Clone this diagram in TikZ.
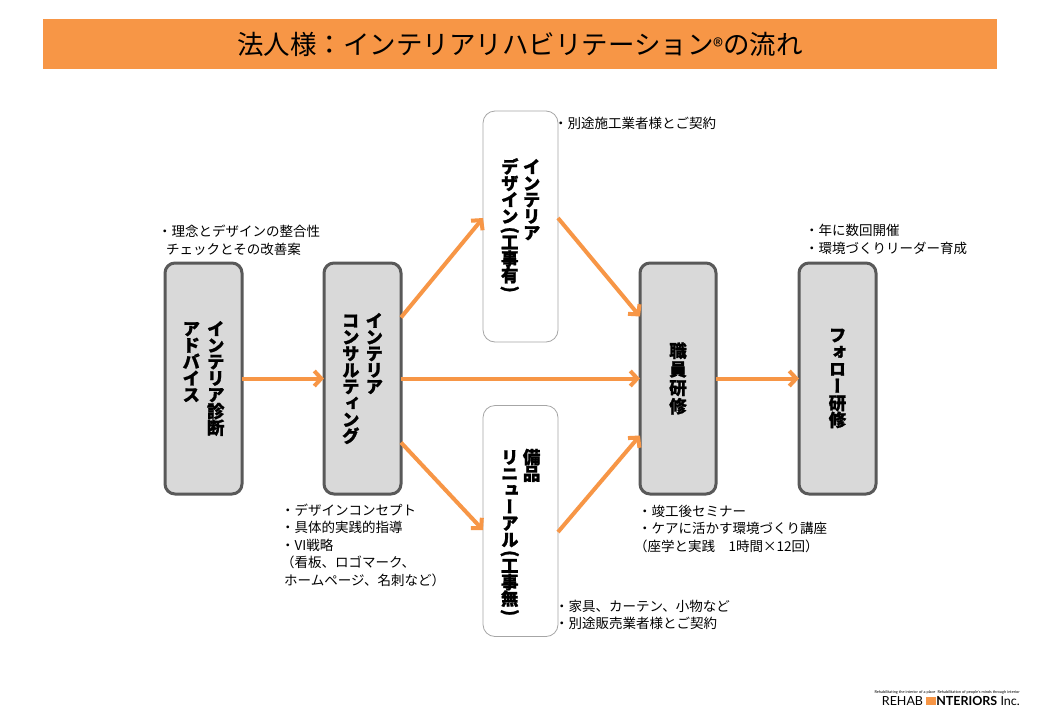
\documentclass[tikz,border=0pt]{standalone}
\usepackage{fontspec}
\usepackage{graphicx}
\usetikzlibrary{arrows.meta}
\setmainfont{Noto Sans CJK JP}
\newfontfamily\jpv[RawFeature=+vert, BoldFeatures={FakeBold=1.2}]{Noto Sans CJK JP}
\newfontfamily\jpb[BoldFeatures={FakeBold=1.2}]{Noto Sans CJK JP}
\newfontfamily\logofont{Lato}
\definecolor{orng}{HTML}{F79646}
\definecolor{boxfill}{HTML}{D9D9D9}
\definecolor{boxline}{HTML}{595959}
\definecolor{thinline}{HTML}{A6A6A6}
\newcommand\vcol[2][16.5pt]{\vtop{\baselineskip=#1\lineskiplimit=-100pt\halign{\hfil##\hfil\cr#2\crcr}}}
\newcommand\tg{\noalign{\vskip-3.5pt}}
\newcommand\vlp{\rotatebox[origin=c]{-90}{\jpb\bfseries (}}
\newcommand\vrp{\rotatebox[origin=c]{-90}{\jpb\bfseries )}}
\begin{document}
\begin{tikzpicture}[x=1pt,y=-1pt,
  graybox/.style={draw=boxline, line width=3pt, fill=boxfill, rounded corners=10pt,
    minimum width=77pt, minimum height=231pt, inner sep=0pt, outer sep=0pt,
    font=\jpv\bfseries\fontsize{17.5}{16.5}\selectfont},
  whitebox/.style={draw=thinline, line width=0.8pt, fill=white, rounded corners=12pt,
    minimum width=75pt, minimum height=231pt, inner sep=0pt, outer sep=0pt,
    font=\jpv\bfseries\fontsize{17.5}{16.5}\selectfont},
  arr/.style={draw=orng, line width=4pt, -{Straight Barb[length=7pt,width=15pt]}},
  ann/.style={anchor=base west, inner sep=0pt, font=\fontsize{13.5}{17.5}\selectfont},
]
\fill[white] (0,0) rectangle (1040,720);
\useasboundingbox (0,0) rectangle (1040,720);

\node[fill=orng, minimum width=954pt, minimum height=50pt, inner sep=0pt,
  font=\fontsize{26.5}{30}\selectfont] (title) at (520,44)
  {法人様：インテリアリハビリテーション{\fontsize{21}{21}\selectfont ®}の流れ};

\node[graybox] (diag) at (203.5,378.5)
  {\vcol{ア\cr ド\cr バ\cr イ\cr ス}\hspace{7pt}\vcol{イ\cr ン\cr テ\cr リ\cr ア\cr 診\cr 断}};
\node[graybox] (cons) at (362.5,378.5)
  {\vcol{コ\cr ン\cr サ\cr ル\cr テ\cr ィ\cr ン\cr グ}\hspace{6pt}\vcol{イ\cr ン\cr テ\cr リ\cr ア}};
\node[whitebox] (design) at (520.5,226.5)
  {\vcol{デ\cr ザ\cr イ\cr ン\cr\tg \vlp\cr\tg 工\cr 事\cr 有\cr\tg \vrp}\hspace{4pt}\vcol{イ\cr ン\cr テ\cr リ\cr ア}};
\node[whitebox, text height=40pt] (renew) at (520.5,521)
  {\vcol{リ\cr ニ\cr ュ\cr ー\cr ア\cr ル\cr\tg \vlp\cr\tg 工\cr 事\cr 無\cr\tg \vrp}\hspace{4pt}\vcol{備\cr 品}};
\node[graybox, minimum width=76pt] (staff) at (678,378.5)
  {\vcol[18.5pt]{職\cr 員\cr 研\cr 修}};
\node[graybox] (follow) at (837.5,378.5)
  {\vcol[17pt]{フ\cr ォ\cr ロ\cr ー\cr 研\cr 修}};

\draw[arr] (diag.east) -- (cons.west);
\draw[arr] ([yshift=61pt]cons.east) -- ([yshift=8.5pt]design.west);
\draw[arr] (cons.east) -- (staff.west);
\draw[arr] ([yshift=-64pt]cons.east) -- ([yshift=-9pt]renew.west);
\draw[arr] ([yshift=8.5pt]design.east) -- ([yshift=62pt]staff.west);
\draw[arr] ([yshift=-11pt]renew.east) -- ([yshift=-57pt]staff.west);
\draw[arr] (staff.east) -- (follow.west);

\node[ann] (a1) at (158,236.5) {・理念とデザインの整合性};
\node[ann] (a2) at (166,254) {チェックとその改善案};

\node[ann] (b1) at (281,515) {・デザインコンセプト};
\node[ann] (b2) at (281,532.5) {・具体的実践的指導};
\node[ann] (b3) at (281,550) {・VI戦略};
\node[ann] (b4) at (281,567.5) {（看板、ロゴマーク、};
\node[ann] (b5) at (284,585) {ホームページ、名刺など）};

\node[ann] (c1) at (554,128) {・別途施工業者様とご契約};

\node[ann] (d1) at (555,611.5) {・家具、カーテン、小物など};
\node[ann] (d2) at (555,628.5) {・別途販売業者様とご契約};

\node[ann] (e1) at (638,516) {・竣工後セミナー};
\node[ann] (e2) at (638,533.5) {・ケアに活かす環境づくり講座};
\node[ann] (e3) at (634,551) {（座学と実践　1時間×12回）};

\node[ann] (f1) at (805,235.5) {・年に数回開催};
\node[ann] (f2) at (805,253) {・環境づくりリーダー育成};

\node[anchor=base east, inner sep=0pt, font=\logofont\fontsize{3.9}{4}\selectfont] (tag) at (1020,693)
  {Rehabilitating the interior of a place \ Rehabilitation of people's minds through interior};
\node[anchor=base east, inner sep=0pt, font=\logofont\fontsize{12.5}{13}\selectfont] (logo) at (1020,705)
  {REHAB \textcolor{orng}{\rule{10pt}{8.5pt}}\textbf{NTERIORS} Inc.};
\end{tikzpicture}
\end{document}
